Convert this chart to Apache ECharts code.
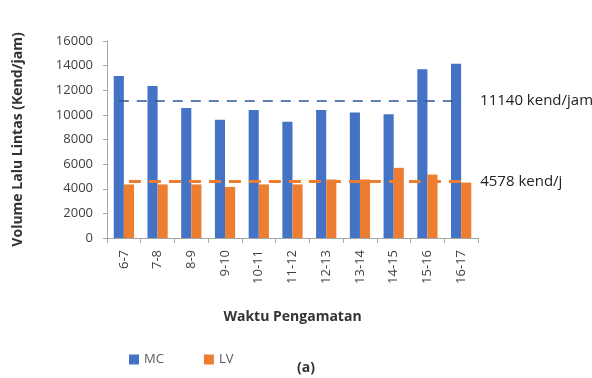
<!DOCTYPE html>
<html><head><meta charset="utf-8">
<script src="https://cdn.jsdelivr.net/npm/echarts@6/dist/echarts.min.js"></script>
<style>html,body{margin:0;padding:0;background:#fff}#c{width:592px;height:378px}</style>
</head><body><div id="c"></div>
<script>
const categories = ['6-7','7-8','8-9','9-10','10-11','11-12','12-13','13-14','14-15','15-16','16-17'];
const mcValues = [13150, 12350, 10550, 9600, 10400, 9450, 10400, 10200, 10050, 13700, 14150];
const lvValues = [4350, 4350, 4350, 4150, 4350, 4350, 4750, 4750, 5700, 5150, 4500];
const mcAverage = 11140;
const lvAverage = 4578;
const yTicks = {min: 0, max: 16000, interval: 2000};

const font = 'Open Sans, Noto Sans, sans-serif';
const chart = echarts.init(document.getElementById('c'), null, {renderer: 'canvas'});
chart.setOption({
  animation: false,
  backgroundColor: '#fff',
  textStyle: {fontFamily: font},
  grid: {left: 107, right: 114, top: 41, bottom: 140},
  legend: {
    data: ['MC', 'LV'], left: 124, top: 348, itemWidth: 10, itemHeight: 10, itemGap: 40,
    icon: 'rect', textStyle: {fontSize: 13, color: '#595959', fontFamily: font}
  },
  xAxis: {
    type: 'category', data: categories,
    name: 'Waktu Pengamatan', nameLocation: 'middle', nameGap: 72,
    nameTextStyle: {fontSize: 14, fontWeight: 'bold', color: '#333', fontFamily: font},
    axisLine: {lineStyle: {color: '#a6a6a6'}},
    axisTick: {show: true, length: 5, lineStyle: {color: '#a6a6a6'}},
    axisLabel: {rotate: 90, fontSize: 13, color: '#404040', margin: 12, fontFamily: font}
  },
  yAxis: {
    type: 'value', min: yTicks.min, max: yTicks.max, interval: yTicks.interval,
    name: 'Volume Lalu Lintas (Kend/jam)', nameLocation: 'middle', nameGap: 82,
    nameTextStyle: {fontSize: 14, fontWeight: 'bold', color: '#333', fontFamily: font},
    splitLine: {show: false},
    axisLine: {show: true, lineStyle: {color: '#a6a6a6'}},
    axisTick: {show: true, length: 4, lineStyle: {color: '#a6a6a6'}},
    axisLabel: {fontSize: 13, color: '#404040', margin: 14, fontFamily: font,
                formatter: v => String(v)}
  },
  graphic: [{
    type: 'text', left: 297, top: 361,
    style: {text: '(a)', fontSize: 14, fontWeight: 'bold', fill: '#333', fontFamily: font}
  }],
  series: [
    {
      name: 'MC', type: 'bar', data: mcValues, barGap: '0%', barCategoryGap: '40%',
      itemStyle: {color: '#4472C4'},
      markLine: {
        symbol: 'none', silent: true,
        lineStyle: {color: '#2F5597', type: [10, 8], width: 1.5},
        label: {show: true, position: 'end', distance: 24, formatter: mcAverage + ' kend/jam',
                fontSize: 15, color: '#222', fontFamily: font},
        data: [[{coord: [categories[0], mcAverage]}, {coord: [categories[categories.length - 1], mcAverage]}]]
      }
    },
    {
      name: 'LV', type: 'bar', data: lvValues,
      itemStyle: {color: '#ED7D31'},
      markLine: {
        symbol: 'none', silent: true,
        lineStyle: {color: '#ED7D31', type: [12, 8], width: 3},
        label: {show: true, position: 'end', distance: 14, formatter: lvAverage + ' kend/j',
                fontSize: 15, color: '#222', fontFamily: font},
        data: [[{coord: [categories[0], lvAverage]}, {coord: [categories[categories.length - 1], lvAverage]}]]
      }
    }
  ]
});
</script></body></html>
